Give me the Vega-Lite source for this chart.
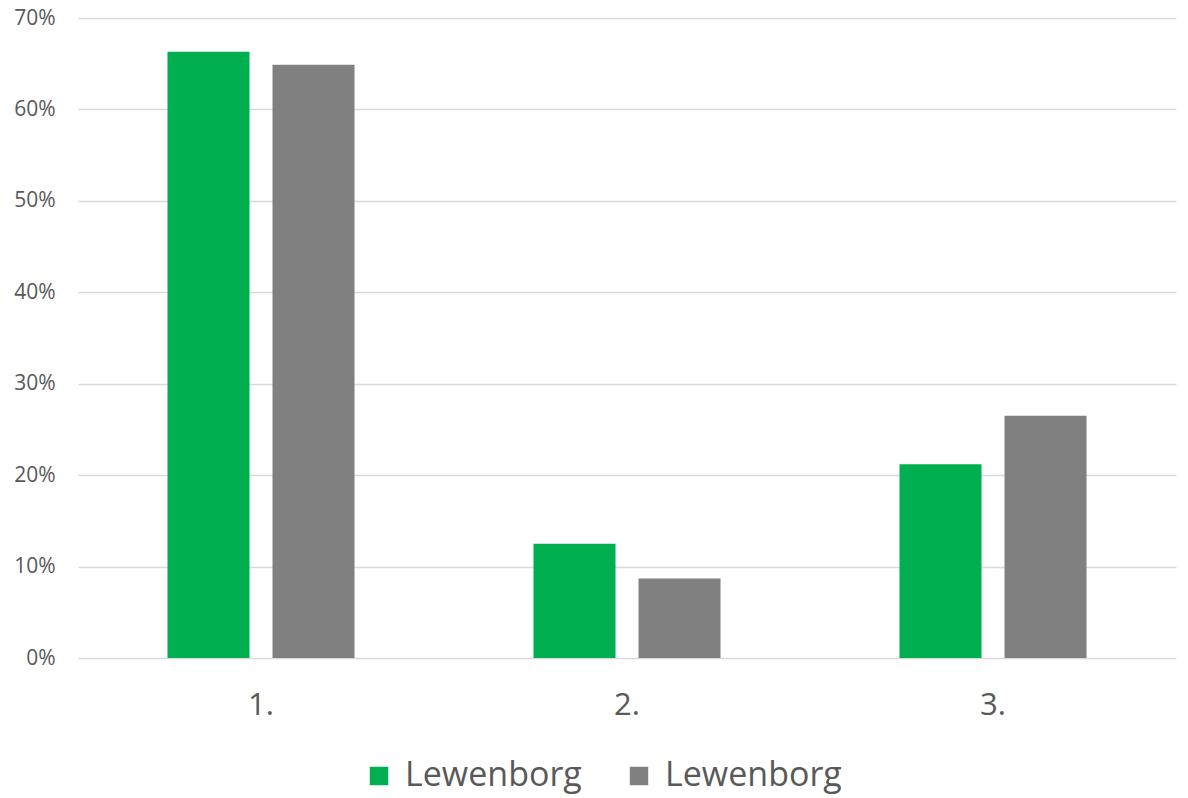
{
  "$schema": "https://vega.github.io/schema/vega-lite/v6.json",
  "width": 1098,
  "height": 640,
  "autosize": {"type": "none"},
  "padding": {"left": 78, "top": 18, "right": 12, "bottom": 140},
  "background": "white",
  "config": {
    "font": "Open Sans",
    "view": {"stroke": null}
  },
  "data": {
    "values": [
      {"cat": "1.", "series": "a", "value": 0.663},
      {"cat": "1.", "series": "b", "value": 0.649},
      {"cat": "2.", "series": "a", "value": 0.125},
      {"cat": "2.", "series": "b", "value": 0.087},
      {"cat": "3.", "series": "a", "value": 0.212},
      {"cat": "3.", "series": "b", "value": 0.265}
    ]
  },
  "mark": {"type": "bar"},
  "encoding": {
    "x": {
      "field": "cat",
      "type": "nominal",
      "sort": null,
      "scale": {"paddingInner": 0.489, "paddingOuter": 0.2445},
      "axis": {
        "title": null,
        "labelAngle": 0,
        "labelFontSize": 31,
        "labelColor": "#595959",
        "labelPadding": 32,
        "ticks": false,
        "tickSize": 0,
        "domain": false,
        "grid": false
      }
    },
    "xOffset": {
      "field": "series",
      "type": "nominal",
      "scale": {"paddingInner": 0.219, "paddingOuter": 0}
    },
    "y": {
      "field": "value",
      "type": "quantitative",
      "scale": {"domain": [0, 0.7], "nice": false},
      "axis": {
        "title": null,
        "values": [0, 0.1, 0.2, 0.3, 0.4, 0.5, 0.6, 0.7],
        "format": ".0%",
        "labelFontSize": 21,
        "labelColor": "#595959",
        "labelPadding": 23,
        "ticks": false,
        "tickSize": 0,
        "domain": false,
        "grid": true,
        "gridColor": "#d9d9d9",
        "gridWidth": 1.5
      }
    },
    "color": {
      "field": "series",
      "type": "nominal",
      "scale": {"domain": ["a", "b"], "range": ["#00B050", "#808080"]},
      "legend": {
        "title": null,
        "orient": "none",
        "direction": "horizontal",
        "legendX": 284,
        "legendY": 741,
        "labelExpr": "'Lewenborg'",
        "labelFontSize": 34,
        "labelColor": "#595959",
        "symbolType": "square",
        "symbolSize": 340,
        "symbolStrokeWidth": 0,
        "labelOffset": 9,
        "columnPadding": 40,
        "labelLimit": 400
      }
    }
  }
}
